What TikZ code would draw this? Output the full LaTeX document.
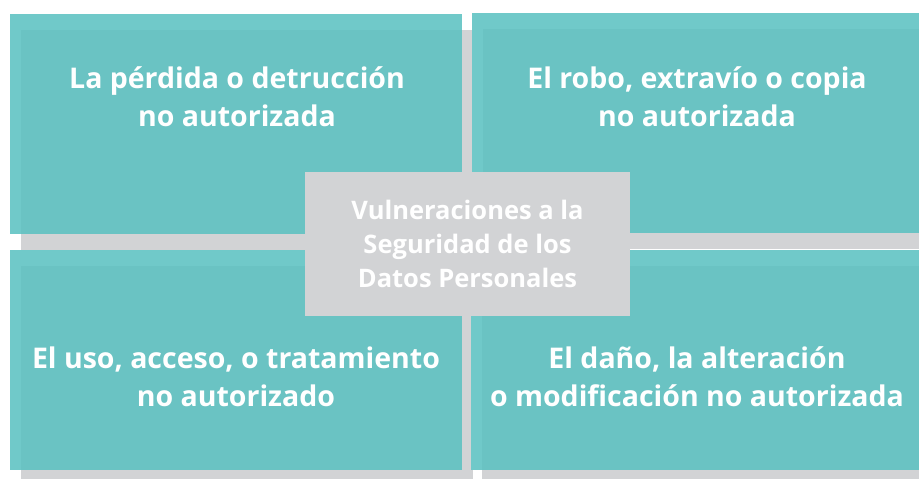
\documentclass[tikz,border=0pt]{standalone}
\usepackage{fontspec}
\setmainfont{Open Sans}
\usepackage{tikz}

\definecolor{tealclaro}{HTML}{70C9C9}
\definecolor{tealoscuro}{HTML}{6AC3C3}
\definecolor{grisv}{HTML}{D2D3D5}

\tikzset{
  texto/.style={text=white, font=\bfseries\fontsize{28.5}{38}\selectfont, align=center, inner sep=0pt},
  centro/.style={fill=grisv, text=white, font=\bfseries\fontsize{25.5}{34}\selectfont, align=center,
    minimum width=325, minimum height=144, inner sep=0pt}
}

\begin{document}
\begin{tikzpicture}[x=1pt, y=-1pt]
  \useasboundingbox (0,0) rectangle (919,479);

  % sombras
  \foreach \x/\y in {10/14, 472/13, 10/250, 471/250}
    \fill[grisv] (\x+11,\y+16) rectangle ++(452,220);
  % cajas
  \foreach \x/\y in {10/14, 472/13, 10/250, 471/250} {
    \fill[tealclaro] (\x,\y) rectangle ++(452,220);
    \fill[tealoscuro] (\x+11,\y+16) rectangle (\x+452,\y+220);
  }

  \node[texto] (perdida) at (237,97) {La pérdida o detrucción\\no autorizada};
  \node[texto] (robo) at (697,97) {El robo, extravío o copia\\no autorizada};
  \node[texto] (uso) at (236,377) {El uso, acceso, o tratamiento\\no autorizado};
  \node[texto] (dano) at (697,377) {El daño, la alteración\\o modificación no autorizada};

  \node[centro] (vuln) at (467.5,244) {Vulneraciones a la\\Seguridad de los\\Datos Personales};
\end{tikzpicture}
\end{document}
